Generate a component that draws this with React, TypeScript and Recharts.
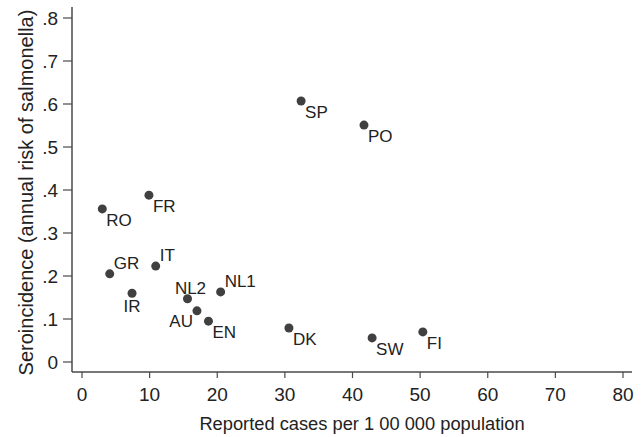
import React from 'react';
import { ScatterChart, Scatter, XAxis, YAxis } from 'recharts';

const countries = ['SP', 'PO', 'FR', 'RO', 'GR', 'IT', 'IR', 'NL2', 'NL1', 'AU', 'EN', 'DK', 'SW', 'FI'];
const reportedCases = [32.4, 41.7, 9.9, 3.0, 4.1, 10.9, 7.4, 15.6, 20.5, 17.0, 18.7, 30.6, 42.9, 50.4];
const seroincidence = [0.607, 0.551, 0.388, 0.356, 0.205, 0.223, 0.16, 0.147, 0.163, 0.119, 0.095, 0.079, 0.056, 0.07];
const labelPlacement = ['se', 'se', 'se', 'se', 'ne', 'ne', 's', 'n', 'ne', 'sw', 'se', 'se', 'se', 'se'];
const xTicks = [0, 10, 20, 30, 40, 50, 60, 70, 80];
const yTicks = [0, 0.1, 0.2, 0.3, 0.4, 0.5, 0.6, 0.7, 0.8];

const data = countries.map((c, i) => ({
  name: c,
  x: reportedCases[i],
  y: seroincidence[i],
  pos: labelPlacement[i],
}));

const FONT = '"Liberation Sans", Arial, Helvetica, sans-serif';
const TEXT = '#222222';
const FRAME = '#4a4a4a';

const fmtY = (v: number) => (v === 0 ? '0' : String(Math.round(v * 10) / 10).replace(/^0/, ''));

const DotWithLabel = (props: any) => {
  const { cx, cy, payload } = props;
  let tx = cx + 4;
  let ty = cy + 17;
  let anchor: 'start' | 'middle' | 'end' = 'start';
  switch (payload.pos) {
    case 'ne':
      tx = cx + 4;
      ty = cy - 5;
      break;
    case 's':
      tx = cx;
      ty = cy + 19;
      anchor = 'middle';
      break;
    case 'n':
      tx = cx + 3;
      ty = cy - 5;
      anchor = 'middle';
      break;
    case 'sw':
      tx = cx - 4;
      ty = cy + 16;
      anchor = 'end';
      break;
    default:
      break;
  }
  return (
    <g>
      <circle cx={cx} cy={cy} r={4.5} fill="#404040" />
      <text x={tx} y={ty} textAnchor={anchor} fontSize={17} fontFamily={FONT} fill={TEXT}>
        {payload.name}
      </text>
    </g>
  );
};

const XTitle = (props: any) => {
  const vb = props.viewBox;
  return (
    <text x={vb.x + vb.width / 2 + 10} y={430} textAnchor="middle" fontSize={18.3} fontFamily={FONT} fill={TEXT}>
      Reported cases per 1 00 000 population
    </text>
  );
};

const YTitle = (props: any) => {
  const vb = props.viewBox;
  const cy = vb.y + vb.height / 2 + 3;
  return (
    <text
      transform={`translate(33, ${cy}) rotate(-90)`}
      textAnchor="middle"
      fontSize={20}
      fontFamily={FONT}
      fill={TEXT}
    >
      Seroincidence (annual risk of salmonella)
    </text>
  );
};

export default function App() {
  return (
    <div style={{ position: 'absolute', left: 0, top: 0, width: 641, height: 437, background: '#fff' }}>
      <ScatterChart width={641} height={437} margin={{ top: 7, right: 9, bottom: 0, left: 0 }}>
        <XAxis
          type="number"
          dataKey="x"
          xAxisId="bottom"
          domain={[0, 80]}
          ticks={xTicks}
          padding={{ left: 10, right: 9 }}
          height={65}
          tickSize={6}
          tickMargin={10}
          axisLine={{ stroke: FRAME, strokeWidth: 1.5 }}
          tickLine={{ stroke: FRAME, strokeWidth: 1.2 }}
          tick={{ fontSize: 19, fontFamily: FONT, fill: TEXT }}
          label={<XTitle />}
        />
        <XAxis
          type="number"
          dataKey="x"
          xAxisId="top"
          orientation="top"
          domain={[0, 80]}
          height={0}
          tick={false}
          tickLine={false}
          axisLine={{ stroke: FRAME, strokeWidth: 1.5 }}
        />
        <YAxis
          type="number"
          dataKey="y"
          yAxisId="left"
          domain={[0, 0.8]}
          ticks={yTicks}
          padding={{ top: 11, bottom: 10 }}
          width={72}
          tickSize={9}
          tickMargin={5}
          tickFormatter={fmtY}
          axisLine={{ stroke: FRAME, strokeWidth: 1.5 }}
          tickLine={{ stroke: FRAME, strokeWidth: 1.2 }}
          tick={{ fontSize: 19, fontFamily: FONT, fill: TEXT }}
          label={<YTitle />}
        />
        <YAxis
          type="number"
          dataKey="y"
          yAxisId="right"
          orientation="right"
          domain={[0, 0.8]}
          width={0}
          tick={false}
          tickLine={false}
          axisLine={{ stroke: FRAME, strokeWidth: 1.5 }}
        />
        <Scatter
          data={data}
          xAxisId="bottom"
          yAxisId="left"
          isAnimationActive={false}
          shape={<DotWithLabel />}
        />
      </ScatterChart>
    </div>
  );
}
